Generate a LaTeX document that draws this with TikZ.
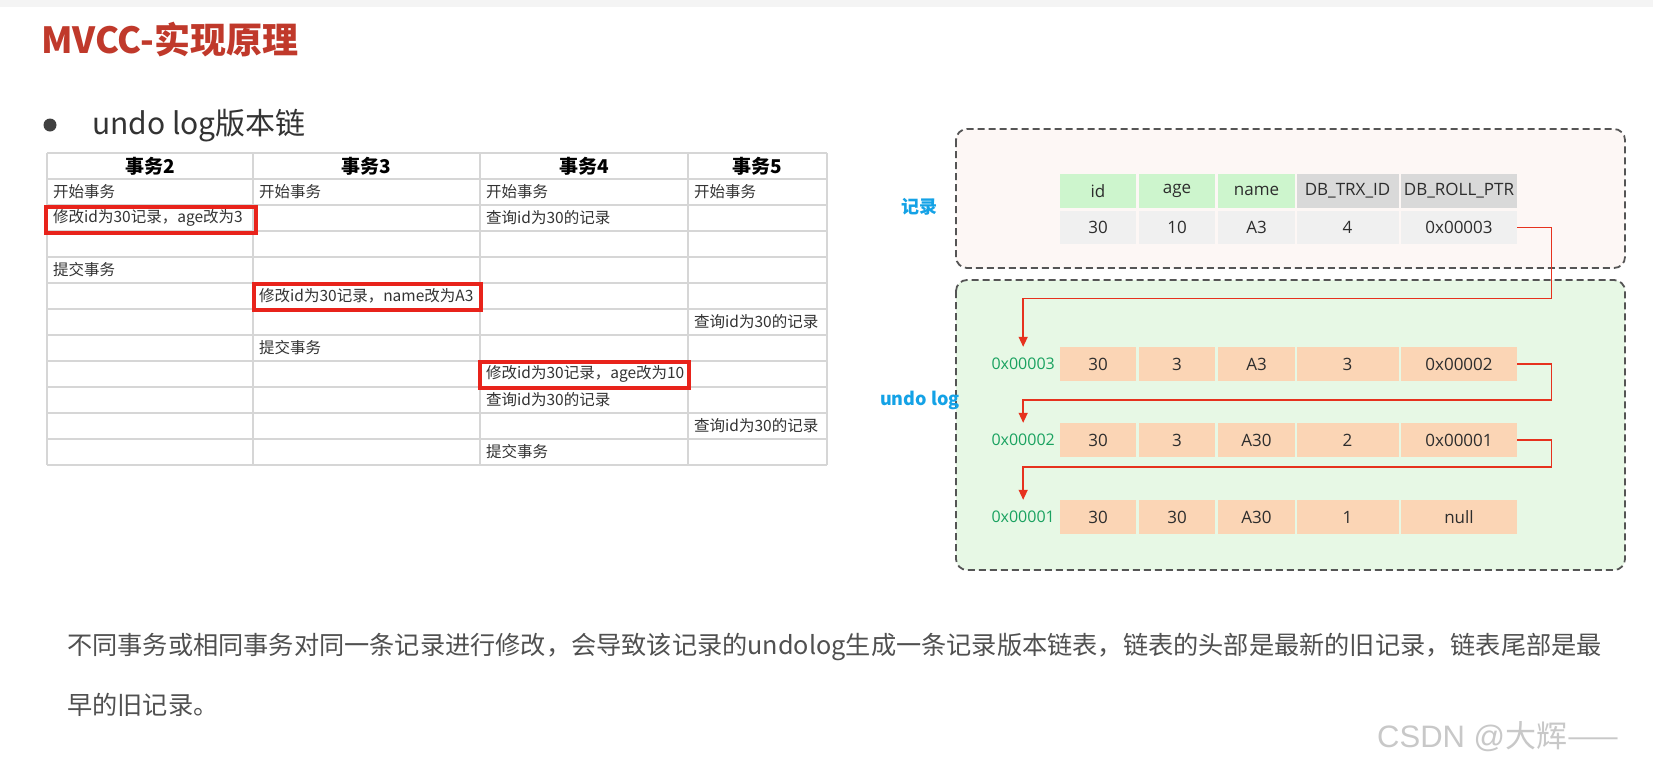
\documentclass[tikz,border=0pt]{standalone}
\usepackage{fontspec}
\setmainfont{Noto Sans CJK SC}
\newfontfamily\cellfont{Open Sans}
\newfontfamily\wmfont{Liberation Sans}
\usetikzlibrary{arrows.meta}
\definecolor{titlered}{RGB}{192,57,43}
\definecolor{bulletgray}{RGB}{64,64,64}
\definecolor{textdark}{RGB}{51,51,51}
\definecolor{gridgray}{RGB}{214,214,214}
\definecolor{boxred}{RGB}{232,35,27}
\definecolor{lblblue}{RGB}{20,162,230}
\definecolor{addrgreen}{RGB}{26,162,96}
\definecolor{pinkbg}{RGB}{253,247,245}
\definecolor{greenbg}{RGB}{231,248,229}
\definecolor{dashgray}{RGB}{85,85,85}
\definecolor{hdrgreen}{RGB}{205,245,205}
\definecolor{hdrgray}{RGB}{217,217,217}
\definecolor{valgray}{RGB}{240,240,240}
\definecolor{peach}{RGB}{251,213,181}
\definecolor{celltxt}{RGB}{45,45,45}
\definecolor{ptrred}{RGB}{230,50,30}
\definecolor{bodygray}{RGB}{80,80,80}
\definecolor{wmgray}{RGB}{200,200,200}
\definecolor{topband}{RGB}{244,244,244}
\tikzset{
  grid line/.style={draw=gridgray, line width=1.3pt},
  redbox/.style={draw=boxred, line width=3.2pt},
  hdrtext/.style={font=\fontsize{19}{21}\selectfont\bfseries, text=black, inner sep=0pt},
  bodytext/.style={font=\fontsize{15.5}{18}\selectfont, text=textdark, inner sep=0pt, anchor=west},
  dashbox/.style={draw=dashgray, line width=1.8pt, dash pattern=on 7pt off 4pt, rounded corners=11pt},
  cellbase/.style={inner sep=0pt, font=\cellfont\fontsize{17}{20}\selectfont, text=celltxt},
  c1/.style={cellbase, minimum width=76pt},
  c2/.style={cellbase, minimum width=76pt},
  c3/.style={cellbase, minimum width=77pt},
  c4/.style={cellbase, minimum width=102pt},
  c5/.style={cellbase, minimum width=116pt},
  hrow/.style={minimum height=34pt},
  vrow/.style={minimum height=33pt},
  addr/.style={inner sep=0pt, anchor=east, minimum height=34pt, font=\cellfont\fontsize{16}{18}\selectfont, text=addrgreen},
  sidelbl/.style={inner sep=0pt, anchor=west, font=\fontsize{18}{20}\selectfont\bfseries, text=lblblue},
  ptr/.style={draw=ptrred, line width=1.4pt, -{Triangle[length=10pt,width=9pt]}},
}
\begin{document}
\begin{tikzpicture}[x=1pt,y=-1pt]
\useasboundingbox (0,0) rectangle (1653,766);
\fill[white] (0,0) rectangle (1653,766);
\fill[topband] (0,0) rectangle (1653,7);

% title
\node[anchor=base west, inner sep=0pt, text=titlered, font=\fontsize{36}{38}\selectfont\bfseries] (title) at (41,53) {MVCC-实现原理};

% bullet
\node[circle, fill=bulletgray, minimum size=13pt, inner sep=0pt] (dot) at (50,125) {};
\node[anchor=base west, inner sep=0pt, text=textdark, font=\fontsize{30}{32}\selectfont] (sub) at (92,134) {undo log版本链};

% table grid
\foreach \yy in {153,179,205,231,257,283,309,335,361,387,413,439,465}
  \draw[grid line] (47,\yy) -- (827,\yy);
\foreach \xx in {47,253,480,688,827}
  \draw[grid line] (\xx,153) -- (\xx,465);

% header
\node[hdrtext] (th2) at (150,166) {事务2};
\node[hdrtext] (th3) at (366,166) {事务3};
\node[hdrtext] (th4) at (584,166) {事务4};
\node[hdrtext] (th5) at (757,166) {事务5};

% body
\node[bodytext] (r1a) at (53,192) {开始事务};
\node[bodytext] (r1b) at (259,192) {开始事务};
\node[bodytext] (r1c) at (486,192) {开始事务};
\node[bodytext] (r1d) at (694,192) {开始事务};
\node[bodytext] (r2a) at (53,218) {修改id为30记录，age改为3};
\node[bodytext] (r2c) at (486,218) {查询id为30的记录};
\node[bodytext] (r4a) at (53,270) {提交事务};
\node[bodytext] (r5b) at (259,296) {修改id为30记录，name改为A3};
\node[bodytext] (r6d) at (694,322) {查询id为30的记录};
\node[bodytext] (r7b) at (259,348) {提交事务};
\node[bodytext] (r8c) at (486,374) {修改id为30记录，age改为10};
\node[bodytext] (r9c) at (486,400) {查询id为30的记录};
\node[bodytext] (r10d) at (694,426) {查询id为30的记录};
\node[bodytext] (r11c) at (486,452) {提交事务};

% red highlight boxes
\draw[redbox] (46,207) rectangle (256,233);
\draw[redbox] (254,284) rectangle (481,310);
\draw[redbox] (480,362) rectangle (689,388);

% right side boxes
\draw[dashbox, fill=pinkbg] (956,129) rectangle (1625,268);
\draw[dashbox, fill=greenbg] (956,280) rectangle (1625,570);

\node[sidelbl] (lrec) at (901,207) {记录};
\node[sidelbl] (lundo) at (880,400) {undo log};

% current record
\node[c1, hrow, fill=hdrgreen] (h1) at (1098,191) {id};
\node[c2, hrow, fill=hdrgreen] (h2) at (1177,191) {age};
\node[c3, hrow, fill=hdrgreen] (h3) at (1256.5,191) {name};
\node[c4, hrow, fill=hdrgray] (h4) at (1347.5,191) {DB\_TRX\_ID};
\node[c5, hrow, fill=hdrgray] (h5) at (1459,191) {DB\_ROLL\_PTR};

\node[c1, vrow, fill=valgray] (v1) at (1098,227.5) {30};
\node[c2, vrow, fill=valgray] (v2) at (1177,227.5) {10};
\node[c3, vrow, fill=valgray] (v3) at (1256.5,227.5) {A3};
\node[c4, vrow, fill=valgray] (v4) at (1347.5,227.5) {4};
\node[c5, vrow, fill=valgray] (v5) at (1459,227.5) {0x00003};

% undo log rows
\node[addr] (a1) at (1055,364) {0x00003};
\node[c1, hrow, fill=peach] (u11) at (1098,364) {30};
\node[c2, hrow, fill=peach] (u12) at (1177,364) {3};
\node[c3, hrow, fill=peach] (u13) at (1256.5,364) {A3};
\node[c4, hrow, fill=peach] (u14) at (1347.5,364) {3};
\node[c5, hrow, fill=peach] (u15) at (1459,364) {0x00002};

\node[addr] (a2) at (1055,440) {0x00002};
\node[c1, hrow, fill=peach] (u21) at (1098,440) {30};
\node[c2, hrow, fill=peach] (u22) at (1177,440) {3};
\node[c3, hrow, fill=peach] (u23) at (1256.5,440) {A30};
\node[c4, hrow, fill=peach] (u24) at (1347.5,440) {2};
\node[c5, hrow, fill=peach] (u25) at (1459,440) {0x00001};

\node[addr] (a3) at (1055,517) {0x00001};
\node[c1, hrow, fill=peach] (u31) at (1098,517) {30};
\node[c2, hrow, fill=peach] (u32) at (1177,517) {30};
\node[c3, hrow, fill=peach] (u33) at (1256.5,517) {A30};
\node[c4, hrow, fill=peach] (u34) at (1347.5,517) {1};
\node[c5, hrow, fill=peach] (u35) at (1459,517) {null};

% pointers
\draw[ptr] (v5.east) -- ++(34,0) -- ++(0,71) -| (a1.north);
\draw[ptr] (u15.east) -- ++(34,0) -- ++(0,36) -| (a2.north);
\draw[ptr] (u25.east) -- ++(34,0) -- ++(0,27) -| (a3.north);

% bottom text
\node[anchor=base west, inner sep=0pt, text=bodygray, font=\fontsize{25.2}{28}\selectfont] (line1) at (67,654) {不同事务或相同事务对同一条记录进行修改，会导致该记录的undolog生成一条记录版本链表，链表的头部是最新的旧记录，链表尾部是最};
\node[anchor=base west, inner sep=0pt, text=bodygray, font=\fontsize{25.2}{28}\selectfont] (line2) at (67,714) {早的旧记录。};

% watermark
\node[anchor=base west, inner sep=0pt, text=wmgray, font=\fontsize{31}{34}\selectfont] (wm) at (1377,747) {{\wmfont CSDN @}大辉——};
\end{tikzpicture}
\end{document}
